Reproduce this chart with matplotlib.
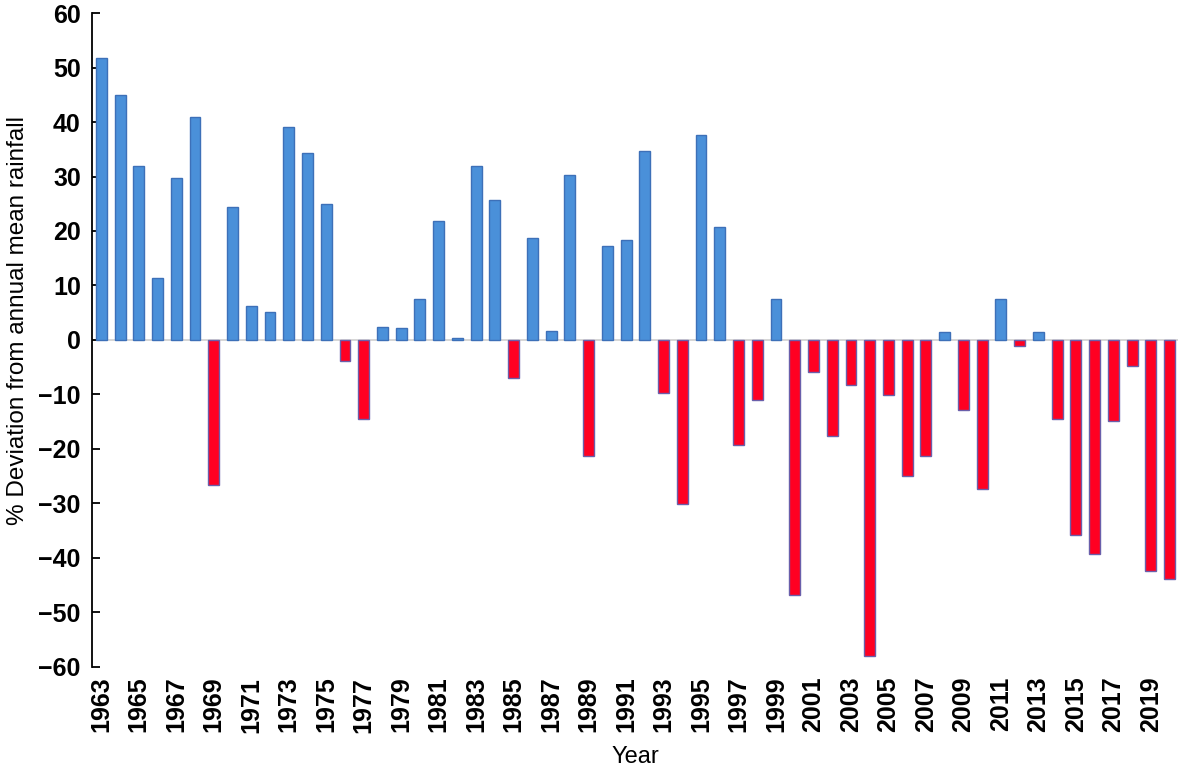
import numpy as np
import matplotlib.pyplot as plt

plt.rcParams['font.family'] = ['Liberation Sans', 'DejaVu Sans']

# Annual rainfall deviation from the long-term mean (%)
years = list(range(1963, 2021))
deviation = [51.7, 45.0, 32.0, 11.3, 29.8, 41.0, -26.7, 24.4, 6.2, 5.2,
             39.0, 34.4, 25.0, -3.8, -14.5, 2.4, 2.2, 7.5, 21.8, 0.4,
             32.0, 25.6, -7.0, 18.7, 1.6, 30.3, -21.2, 17.3, 18.3, 34.6,
             -9.7, -30.1, 37.7, 20.7, -19.2, -11.0, 7.5, -46.8, -5.9, -17.6,
             -8.3, -58.0, -10.1, -25.0, -21.3, 1.4, -12.8, -27.4, 7.5, -1.1,
             1.4, -14.5, -35.8, -39.3, -14.8, -4.7, -42.4, -43.9]

x = np.arange(len(years))
dev = np.array(deviation)
fill = np.where(dev >= 0, '#4A90D9', '#FF0022')
edge = np.where(dev >= 0, '#3D70B8', '#6A5FAA')

fig = plt.figure(figsize=(11.82, 7.70), dpi=100)
ax = fig.add_axes([0.0778, 0.1338, 0.9188, 0.8493])

ax.bar(x, dev, width=0.58, color=fill, edgecolor=edge, linewidth=1.0, zorder=2)
ax.axhline(0, color='#D0D0D0', linewidth=1.2, zorder=1)

ax.set_xlim(-0.5, 57.45)
ax.set_ylim(-60, 60)
ax.set_yticks(range(-60, 61, 10))
ax.set_yticklabels([f'\u2212{abs(v)}' if v < 0 else str(v) for v in range(-60, 61, 10)],
                   fontsize=18, fontweight='bold')
ax.set_xticks(x[::2])
ax.set_xticklabels([str(y) for y in years[::2]], rotation=90, fontsize=18,
                   fontweight='bold')

ax.tick_params(axis='y', direction='in', length=6, width=1.3, pad=8)
ax.tick_params(axis='x', length=0, pad=7)

for s in ['top', 'right', 'bottom']:
    ax.spines[s].set_visible(False)
ax.spines['left'].set_linewidth(1.3)

ax.set_ylabel('% Deviation from annual mean rainfall', fontsize=17.5, labelpad=6)
ax.yaxis.set_label_coords(-0.058, 0.53)
ax.set_xlabel('Year', fontsize=17, labelpad=10)

plt.savefig('out.png', dpi=100)
